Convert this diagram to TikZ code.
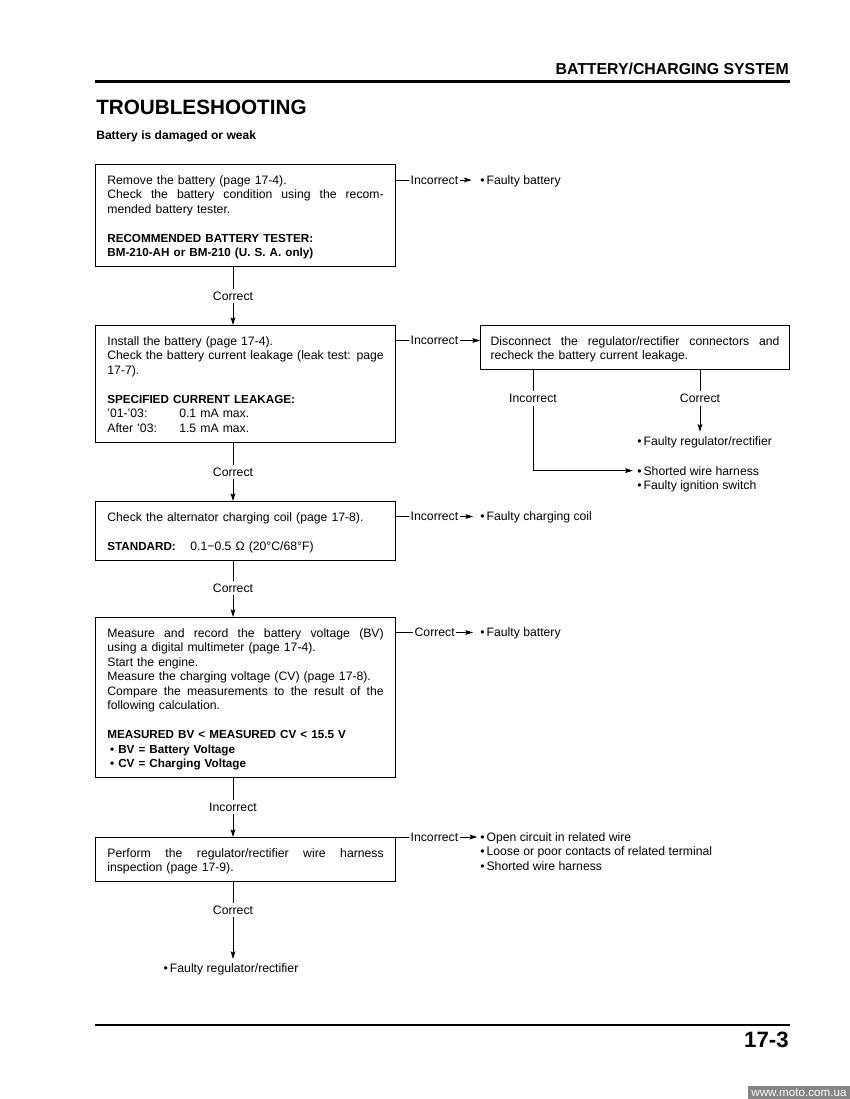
\documentclass[tikz,border=0pt]{standalone}
\usepackage{fontspec}
\setmainfont{Liberation Sans}
\usetikzlibrary{arrows.meta}

\newcommand{\hb}[1]{{\fontsize{8.4pt}{10.44pt}\selectfont\bfseries #1}}
\newcommand{\jline}[1]{\makebox[\linewidth][s]{\spaceskip=0pt\xspaceskip=0pt #1}}
\newcommand{\firstln}{\rule{0pt}{12pt}}
\newcommand{\lastln}{\rule[-5.4pt]{0pt}{5.4pt}}
\newcommand{\blankln}{\\[10.44pt]}

\begin{document}
\begin{tikzpicture}[x=0.72pt,y=-0.72pt,
  every node/.style={font=\fontsize{8.8pt}{10.44pt}\selectfont},
  testbox/.style={draw,line width=0.8pt,anchor=north west,text width=199pt,
    inner xsep=8.5pt,inner ysep=2pt,align=left},
  lbl/.style={inner sep=2pt},
  sidelbl/.style={inner sep=1pt,anchor=west},
  res/.style={inner sep=0pt,anchor=base west},
  con/.style={line width=0.6pt},
  arr/.style={con,-{Stealth[length=5.5pt,width=3.4pt,inset=1pt]}}]
  \useasboundingbox (0,0) rectangle (850,1099);

  % page head
  \node[anchor=base east,inner sep=0pt,font=\fontsize{11.4pt}{13pt}\selectfont\bfseries] (sect) at (789,74) {BATTERY/CHARGING SYSTEM};
  \draw[line width=2pt] (95,81.5) -- (790,81.5);
  \node[anchor=base west,inner sep=0pt,font=\fontsize{14.9pt}{17pt}\selectfont\bfseries] (title) at (96,114) {TROUBLESHOOTING};
  \node[anchor=base west,inner sep=0pt,font=\fontsize{8.7pt}{10pt}\selectfont\bfseries] (sub) at (96,139) {Battery is damaged or weak};

  % test boxes
  \node[testbox] (b1) at (95,164) {\firstln Remove the battery (page 17-4).\\
    \jline{Check the battery condition using the recom-}\\
    mended battery tester.\blankln
    \hb{RECOMMENDED BATTERY TESTER:}\\
    \hb{BM-210-AH or BM-210 (U. S. A. only)}\lastln};
  \node[testbox] (b2) at (95,325) {\firstln Install the battery (page 17-4).\\
    \jline{Check the battery current leakage (leak test: page}\\
    17-7).\blankln
    \hb{SPECIFIED CURRENT LEAKAGE:}\\
    \makebox[51.8pt][l]{'01-'03:}0.1 mA max.\\
    \makebox[51.8pt][l]{After '03:}1.5 mA max.\lastln};
  \node[testbox,text width=208pt,inner xsep=7.25pt] (b3) at (480,325) {\firstln\jline{Disconnect the regulator/rectifier connectors and}\\
    recheck the battery current leakage.\lastln};
  \node[testbox] (b4) at (95,501) {\firstln Check the alternator charging coil (page 17-8).\blankln
    \makebox[59.8pt][l]{\hb{STANDARD:}}0.1−0.5 Ω (20°C/68°F)\lastln};
  \node[testbox] (b5) at (95,617) {\firstln\jline{Measure and record the battery voltage (BV)}\\
    using a digital multimeter (page 17-4).\\
    Start the engine.\\
    Measure the charging voltage (CV) (page 17-8).\\
    \jline{Compare the measurements to the result of the}\\
    following calculation.\blankln
    \hb{MEASURED BV < MEASURED CV < 15.5 V}\\
    \hb{\hspace{2pt}• BV = Battery Voltage}\\
    \hb{\hspace{2pt}• CV = Charging Voltage}\lastln};
  \node[testbox] (b6) at (95,837) {\firstln\jline{Perform the regulator/rectifier wire harness}\\
    inspection (page 17-9).\lastln};

  % main line
  \node[lbl] (c1) at (233,296) {Correct};
  \draw[con] (c1) -- (c1 |- b1.south);
  \draw[arr] (c1) -- (c1 |- b2.north);
  \node[lbl] (c2) at (233,472) {Correct};
  \draw[con] (c2) -- (c2 |- b2.south);
  \draw[arr] (c2) -- (c2 |- b4.north);
  \node[lbl] (c4) at (233,588) {Correct};
  \draw[con] (c4) -- (c4 |- b4.south);
  \draw[arr] (c4) -- (c4 |- b5.north);
  \node[lbl] (i5) at (233,807) {Incorrect};
  \draw[con] (i5) -- (i5 |- b5.south);
  \draw[arr] (i5) -- (i5 |- b6.north);
  \node[lbl] (c6) at (233,910) {Correct};
  \draw[con] (c6) -- (c6 |- b6.south);
  \node[inner sep=0pt,anchor=base] (rf) at (231,972.5) {•\,Faulty regulator/rectifier};
  \draw[arr,shorten >=3.2pt] (c6) -- (c6 |- rf.north);

  % side branches
  \node[sidelbl] (n1) at (409,180) {Incorrect};
  \draw[con] (b1.east |- n1) -- (n1.west);
  \node[res] (r1) at (480,184.5) {•\,Faulty battery};
  \draw[arr,shorten >=6pt] (n1.east) -- (n1.east -| r1.west);

  \node[sidelbl] (n2) at (409,340.5) {Incorrect};
  \draw[con] (b2.east |- n2) -- (n2.west);
  \draw[arr] (n2.east) -- (n2.east -| b3.west);

  \node[lbl] (q1) at (533,398.3) {Incorrect};
  \node[lbl] (q2) at (700,398.3) {Correct};
  \draw[con] (q1) -- (q1 |- b3.south);
  \draw[con] (q2) -- (q2 |- b3.south);
  \node[res] (r3a) at (637,445.7) {•\,Faulty regulator/rectifier};
  \draw[arr,shorten >=3.5pt] (q2) -- (q2 |- r3a.north);
  \node[res] (r3b) at (637,475) {•\,Shorted wire harness};
  \node[res] (r3c) at (637,489.5) {•\,Faulty ignition switch};
  \draw[arr,shorten >=3pt] (q1) |- (r3b.west);

  \node[sidelbl] (n4) at (409,516.5) {Incorrect};
  \draw[con] (b4.east |- n4) -- (n4.west);
  \node[res] (r4) at (480,520.5) {•\,Faulty charging coil};
  \draw[arr,shorten >=5pt] (n4.east) -- (n4.east -| r4.west);

  \node[sidelbl] (n5) at (413,632.5) {Correct};
  \draw[con] (b5.east |- n5) -- (n5.west);
  \node[res] (r5) at (480,636.5) {•\,Faulty battery};
  \draw[arr,shorten >=5pt] (n5.east) -- (n5.east -| r5.west);

  \node[sidelbl] (n6) at (409,837) {Incorrect};
  \draw[con] (b6.north east) -- (n6.west);
  \node[res] (r6a) at (480,841) {•\,Open circuit in related wire};
  \node[res] (r6b) at (480,855.5) {•\,Loose or poor contacts of related terminal};
  \node[res] (r6c) at (480,870) {•\,Shorted wire harness};
  \draw[arr,shorten >=2pt] (n6.east) -- (n6.east -| r6a.west);

  % page foot
  \draw[line width=2pt] (95,1025) -- (789.5,1025);
  \node[anchor=base east,inner sep=0pt,font=\fontsize{16pt}{18pt}\selectfont\bfseries] (pg) at (789,1047.5) {17-3};
  \fill[black!48] (748,1086) rectangle (850,1099);
  \node[inner sep=0pt,text=white,font=\fontsize{8.4pt}{9pt}\selectfont] (www) at (799,1092.5) {www.moto.com.ua};
\end{tikzpicture}
\end{document}
